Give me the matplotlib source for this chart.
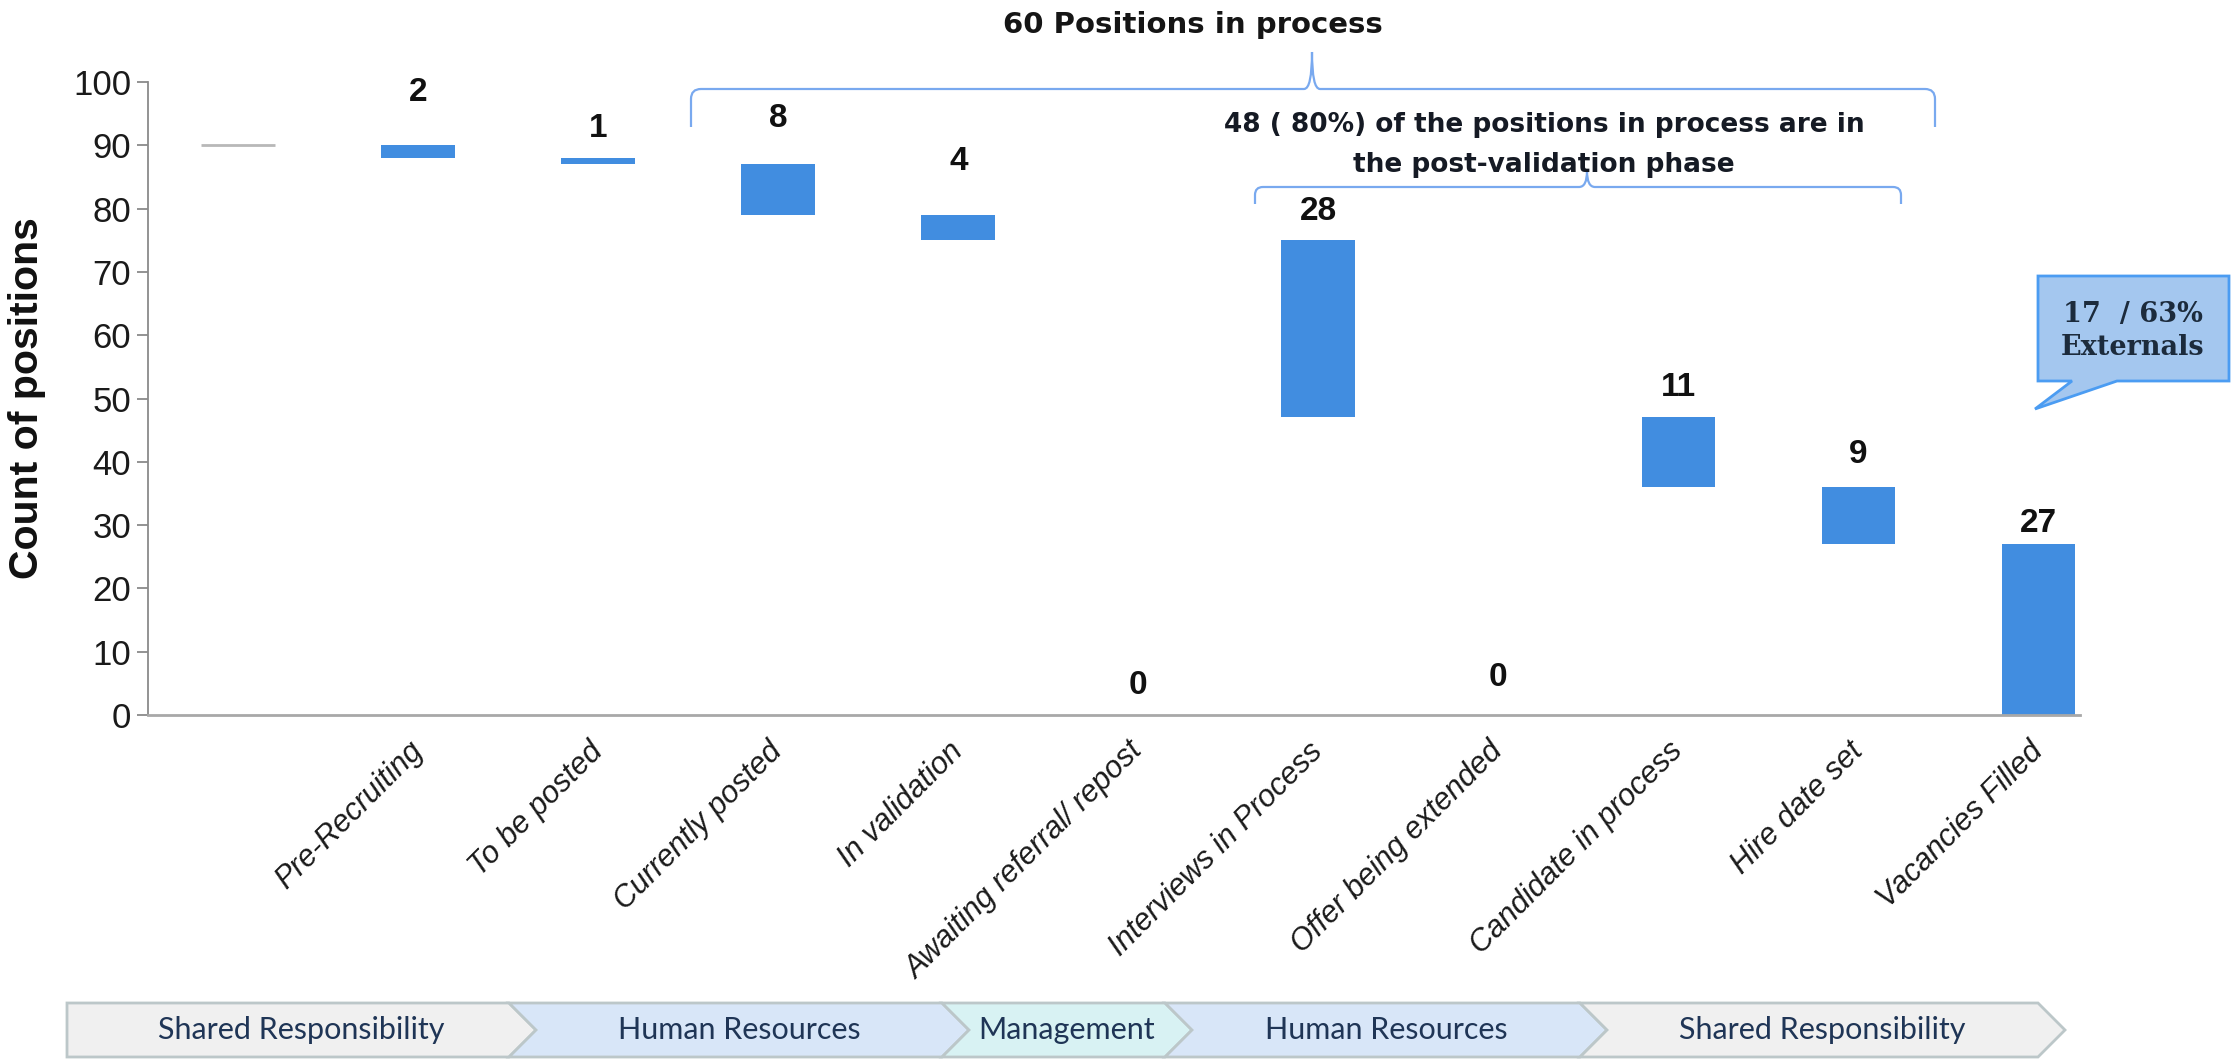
import numpy as np
import matplotlib.pyplot as plt
from matplotlib.patches import Polygon, PathPatch
from matplotlib.path import Path
from matplotlib.transforms import Affine2D

# data
stages = ['', 'Pre-Recruiting', 'To be posted', 'Currently posted', 'In validation',
          'Awaiting referral/ repost', 'Interviews in Process', 'Offer being extended',
          'Candidate in process', 'Hire date set', 'Vacancies Filled']
total_positions = 90
stage_counts = [2, 1, 8, 4, 0, 28, 0, 11, 9]
vacancies_filled = 27
externals = 17
y_ticks = [0, 10, 20, 30, 40, 50, 60, 70, 80, 90, 100]
owners = ['Shared Responsibility', 'Human Resources', 'Management',
          'Human Resources', 'Shared Responsibility']

# positions in process start at "Currently posted", post-validation at "Awaiting referral"
in_process = sum(stage_counts[2:])
post_validation = sum(stage_counts[4:])

plt.rcParams['font.family'] = 'Liberation Sans'

W, H = 2234, 1059
fig = plt.figure(figsize=(W / 100, H / 100), dpi=100)
ax = fig.add_axes([148 / W, 1 - 715 / H, (2080 - 148) / W, (715 - 82) / H])

# figure pixel coordinates (origin top-left) for the decorations
px = Affine2D().scale(1 / W, -1 / H).translate(0, 1) + fig.transFigure

blue = '#418de0'
w = 0.41
x = np.arange(len(stages))

# waterfall: each stage removes its count from the running level
bottoms = []
level = total_positions
for c in stage_counts:
    level -= c
    bottoms.append(level)

ax.hlines(total_positions, x[0] - w / 2, x[0] + w / 2, color='#b8b8b8', lw=2)
ax.bar(x[1:-1], stage_counts, bottom=bottoms, width=w, color=blue)
ax.bar(x[-1], vacancies_filled, width=w, color=blue)

values = stage_counts + [vacancies_filled]
tops = [b + c if c else 0 for b, c in zip(bottoms, stage_counts)] + [vacancies_filled]
label_pad = [8.3, 4.7, 7.3, 8.5, 4.7, 4.5, 6.0, 4.8, 5.1, 3.3]
for xi, v, t, p in zip(x[1:], values, tops, label_pad):
    ax.text(xi, t + p, str(v), ha='center', va='center', fontsize=24,
            fontweight='bold', color='#111111')

ax.set_xlim(-0.5, 10.23)
ax.set_ylim(0, 100)
ax.set_yticks(y_ticks)
ax.tick_params(axis='y', labelsize=25, length=8, width=1.3, color='#8a8a8a',
               labelcolor='#1a1a1a', pad=4)
ax.set_xticks(x)
ax.set_xticklabels(stages, rotation=45, ha='right', va='center',
                   rotation_mode='anchor', fontsize=22, style='italic', color='#1a1a1a')
ax.tick_params(axis='x', length=0, pad=23)
for side in ['top', 'right']:
    ax.spines[side].set_visible(False)
ax.spines['left'].set_color('#8a8a8a')
ax.spines['left'].set_linewidth(1.3)
ax.spines['bottom'].set_color('#a8a8a8')
ax.spines['bottom'].set_linewidth(2)
ax.set_ylabel('Count of positions', fontsize=29.5, fontweight='bold', color='#111111')
ax.yaxis.set_label_coords(-0.053, 0.5)


def brace(x0, x1, xm, y_line, y_end, y_tip, r=10):
    verts = [(x0, y_end), (x0, y_line + r), (x0, y_line), (x0 + r, y_line),
             (xm - 8, y_line), (xm, y_line), (xm, y_tip),
             (xm, y_line), (xm + 8, y_line),
             (x1 - r, y_line), (x1, y_line), (x1, y_line + r), (x1, y_end)]
    codes = [Path.MOVETO, Path.LINETO, Path.CURVE3, Path.CURVE3,
             Path.LINETO, Path.CURVE3, Path.CURVE3,
             Path.CURVE3, Path.CURVE3,
             Path.LINETO, Path.CURVE3, Path.CURVE3, Path.LINETO]
    fig.add_artist(PathPatch(Path(verts, codes), fill=False, edgecolor='#79a9ef',
                             lw=1.6, transform=px))


brace(691, 1935, 1312, 89, 127, 52)
brace(1255, 1901, 1587, 187, 204, 171, r=8)

fig.text(1193 / W, 1 - 25 / H, f'{in_process} Positions in process', ha='center',
         va='center', fontsize=21, fontweight='bold', family='DejaVu Sans', color='#151515')
share = round(100 * post_validation / in_process)
fig.text(1544 / W, 1 - 145 / H,
         f'{post_validation} ( {share}%) of the positions in process are in\nthe post-validation phase',
         ha='center', va='center', fontsize=19, fontweight='bold', family='DejaVu Sans',
         color='#151a24', linespacing=1.7)

# callout for external hires
callout = [(2038, 276), (2229, 276), (2229, 381), (2117, 381), (2035, 409),
           (2072, 381), (2038, 381)]
fig.add_artist(Polygon(callout, closed=True, facecolor='#a4c7ef', edgecolor='#4b9cf2',
                       lw=2, transform=px))
ext_share = round(100 * externals / vacancies_filled)
fig.text(2133 / W, 1 - 331 / H, f'{externals}  / {ext_share}%\nExternals', ha='center',
         va='center', fontsize=19.5, fontweight='bold', family='DejaVu Serif',
         color='#1c2b3c', linespacing=1.3)

# responsibility band along the bottom
band_edges = [67, 509, 942, 1165, 1580, 2038]
band_colors = {'Shared Responsibility': '#f0f0f0', 'Human Resources': '#d8e6f8',
               'Management': '#d8f2f3'}
d, top, bot = 27, 1003, 1057
mid = (top + bot) / 2
for i, name in enumerate(owners):
    L, R = band_edges[i], band_edges[i + 1]
    pts = [(L, top), (R, top), (R + d, mid), (R, bot), (L, bot)]
    if i > 0:
        pts.append((L + d, mid))
    fig.add_artist(Polygon(pts, closed=True, facecolor=band_colors[name],
                           edgecolor='#bcc7c9', lw=2, transform=px))
    fig.text((L + R + d) / 2 / W, 1 - mid / H, name, ha='center', va='center',
             fontsize=22, family='Lato', color='#1f3556')

fig.savefig('out.png', dpi=100)
